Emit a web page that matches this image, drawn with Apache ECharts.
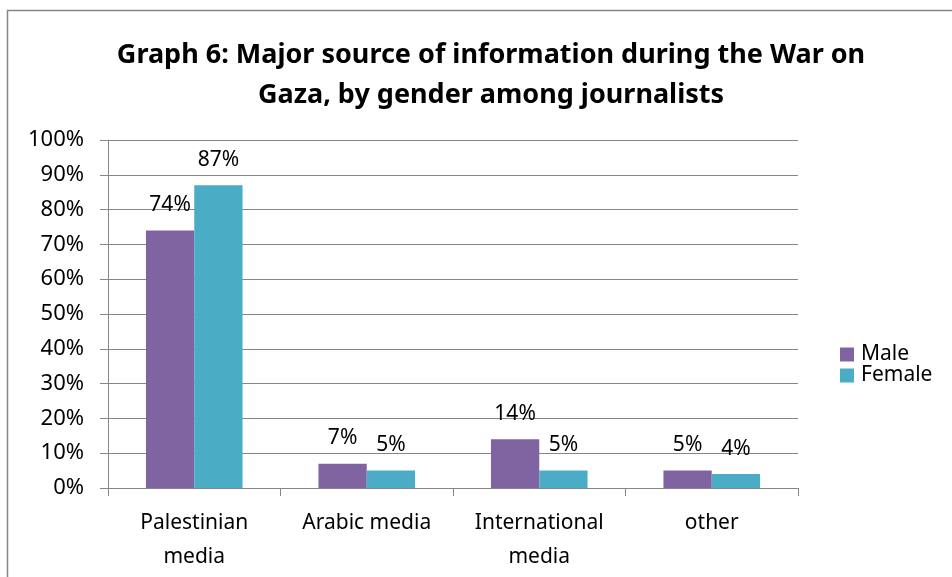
<!DOCTYPE html>
<html>
<head>
<meta charset="utf-8">
<script src="https://cdn.jsdelivr.net/npm/echarts@6/dist/echarts.min.js"></script>
<style>
  html, body { margin: 0; padding: 0; background: #fff; }
  #chart { width: 952px; height: 577px; }
</style>
</head>
<body>
<div id="chart"></div>
<script>
// Source categories and shares (%) by gender
const categories = ['Palestinian\nmedia', 'Arabic media', 'International\nmedia', 'other'];
const maleValues = [74, 7, 14, 5];
const femaleValues = [87, 5, 5, 4];
const yTicks = [0, 10, 20, 30, 40, 50, 60, 70, 80, 90, 100];

const FONT = '"Noto Sans", "Open Sans", sans-serif';
const GRAY = '#868686';

const chart = echarts.init(document.getElementById('chart'), null, { renderer: 'canvas' });

const labelStyle = {
  show: true,
  position: 'top',
  distance: 15,
  formatter: p => p.value + '%',
  fontFamily: FONT,
  fontSize: 21,
  color: '#000'
};

chart.setOption({
  backgroundColor: '#fff',
  animation: false,
  graphic: [{
    type: 'rect',
    shape: { x: 7.5, y: 10.5, width: 1000, height: 700 },
    style: { fill: 'none', stroke: GRAY, lineWidth: 1.5 },
    silent: true,
    z: -1
  }],
  title: {
    text: 'Graph 6: Major source of information during the War on\nGaza, by gender among journalists',
    left: 486,
    textAlign: 'center',
    top: 30,
    textStyle: {
      fontFamily: FONT,
      fontWeight: 'bold',
      fontSize: 27,
      lineHeight: 40,
      color: '#000'
    }
  },
  legend: {
    orient: 'vertical',
    left: 835,
    top: 339,
    itemWidth: 14,
    itemHeight: 14,
    itemGap: 0,
    icon: 'rect',
    textStyle: { fontFamily: FONT, fontSize: 21, lineHeight: 16, color: '#000', padding: [0, 0, 0, 2] },
    data: ['Male', 'Female']
  },
  grid: { left: 108, right: 154, top: 140, bottom: 89, containLabel: false },
  xAxis: {
    type: 'category',
    data: categories,
    axisLine: { show: true, lineStyle: { color: GRAY, width: 1 } },
    axisTick: { show: true, alignWithLabel: false, length: 8, lineStyle: { color: GRAY } },
    axisLabel: {
      fontFamily: FONT,
      fontSize: 21,
      color: '#000',
      lineHeight: 34,
      margin: 18,
      interval: 0
    }
  },
  yAxis: {
    type: 'value',
    min: 0,
    max: 100,
    interval: 10,
    axisLine: { show: true, lineStyle: { color: GRAY, width: 1 } },
    axisTick: { show: true, length: 8, lineStyle: { color: GRAY } },
    splitLine: { show: true, lineStyle: { color: GRAY, width: 1 } },
    axisLabel: {
      fontFamily: FONT,
      fontSize: 22,
      color: '#000',
      margin: 24,
      formatter: v => (yTicks.includes(v) ? v + '%' : '')
    }
  },
  series: [
    {
      name: 'Male',
      type: 'bar',
      data: maleValues,
      barGap: '0%',
      barCategoryGap: '44%',
      itemStyle: { color: '#8064A2' },
      label: labelStyle
    },
    {
      name: 'Female',
      type: 'bar',
      data: femaleValues,
      barGap: '0%',
      barCategoryGap: '44%',
      itemStyle: { color: '#4BACC6' },
      label: labelStyle
    }
  ]
});
</script>
</body>
</html>
